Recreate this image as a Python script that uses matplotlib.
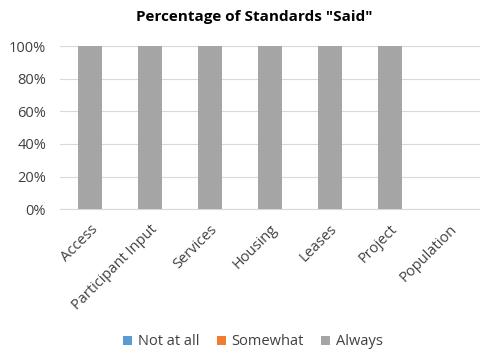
import matplotlib
matplotlib.use('Agg')
import matplotlib.pyplot as plt
import numpy as np
from matplotlib.ticker import PercentFormatter

plt.rcParams['font.family'] = ['Open Sans', 'DejaVu Sans']

categories = ['Access', 'Participant Input', 'Services', 'Housing', 'Leases',
              'Project', 'Population']
not_at_all = [0, 0, 0, 0, 0, 0, 0]
somewhat = [0, 0, 0, 0, 0, 0, 0]
always = [100, 100, 100, 100, 100, 100, 0]


def main():
    fig = plt.figure(figsize=(4.8, 3.55), dpi=100)
    ax = fig.add_axes([0.125, 0.411, 0.875, 0.459])

    x = np.arange(len(categories))
    width = 0.4
    na = np.array(not_at_all)
    sw = np.array(somewhat)
    al = np.array(always)

    ax.bar(x, na, width, color='#5B9BD5', label='Not at all', zorder=3)
    ax.bar(x, sw, width, bottom=na, color='#ED7D31', label='Somewhat', zorder=3)
    ax.bar(x, al, width, bottom=na + sw, color='#A5A5A5', label='Always', zorder=3)

    ax.set_xlim(-0.5, len(categories) - 0.5)
    ax.set_ylim(0, 100)
    ax.set_yticks(np.arange(0, 101, 20))
    ax.yaxis.set_major_formatter(PercentFormatter(decimals=0))
    ax.grid(axis='y', color='#D9D9D9', linewidth=0.8, zorder=0)

    ax.set_xticks(x)
    ax.set_xticklabels(categories, rotation=45, ha='right', rotation_mode='anchor')
    ax.tick_params(axis='both', length=0, labelsize=10.5, colors='#404040')
    ax.tick_params(axis='x', pad=9)
    ax.tick_params(axis='y', pad=10)
    for side in ['top', 'right', 'left']:
        ax.spines[side].set_visible(False)
    ax.spines['bottom'].set_color('#D9D9D9')

    fig.text(0.53, 0.952, 'Percentage of Standards "Said"', ha='center',
             va='center', fontsize=11, fontweight='bold', color='#000000')

    ax.legend(loc='center', bbox_to_anchor=(0.46, -0.815), ncol=3, frameon=False,
              fontsize=10.5, handlelength=0.6, handleheight=0.6, handletextpad=0.4,
              columnspacing=1.2, labelcolor='#404040')

    fig.savefig('out.png', dpi=100)


if __name__ == '__main__':
    main()
